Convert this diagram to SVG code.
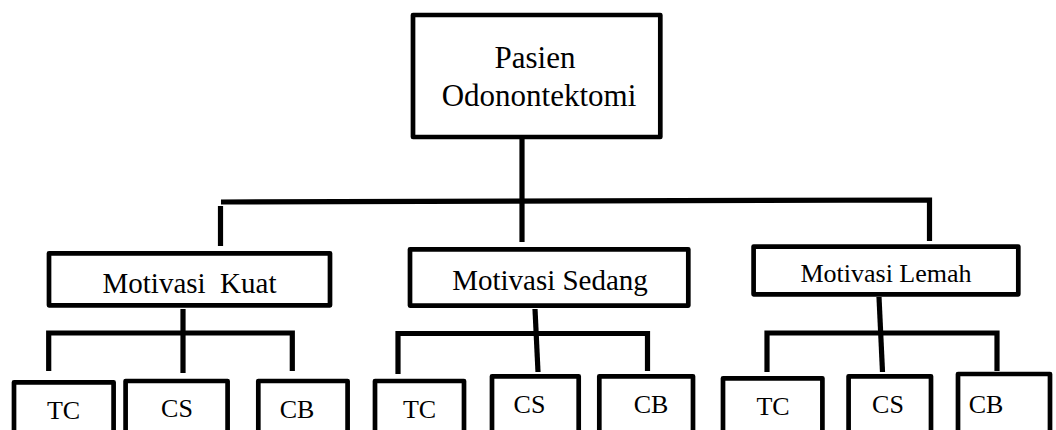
<svg xmlns="http://www.w3.org/2000/svg" width="1056" height="430" viewBox="0 0 1056 430">
<style>
.box{fill:#fff;stroke:#000;stroke-width:4.7;stroke-linejoin:round}
.ln{fill:none;stroke:#000;stroke-width:5.2;stroke-linecap:butt;stroke-linejoin:miter}
text{font-family:"Liberation Serif","Times New Roman",serif;fill:#000;text-anchor:middle;white-space:pre}
.t1{font-size:31px}
.t2{font-size:29px}
.t3{font-size:26px}
</style>
<rect width="1056" height="430" fill="#fff"/>
<g id="connectors">
<line class="ln" x1="522" y1="139" x2="522" y2="242"/>
<polyline class="ln" points="221,202 929.5,200 929.5,241"/>
<line class="ln" x1="220.5" y1="206" x2="220.5" y2="246"/>
<line class="ln" x1="183" y1="309" x2="183" y2="373"/>
<polyline class="ln" points="48.7,371 48.7,333 292.3,333 292.3,371"/>
<line class="ln" x1="535" y1="309" x2="538" y2="372"/>
<polyline class="ln" points="398,374 398,333.5 647.5,333.5 647.5,371"/>
<line class="ln" x1="879" y1="297" x2="882.5" y2="372"/>
<polyline class="ln" points="767,372 767,333 997,333 997,371"/>
</g>
<g id="root">
<rect class="box" x="413" y="15" width="247.3" height="122"/>
<text class="t1" x="535" y="68">Pasien</text>
<text class="t1" x="539" y="106">Odonontektomi</text>
</g>
<g id="kuat">
<rect class="box" x="49" y="253.3" width="281" height="52"/>
<text class="t2" x="189.5" y="293">Motivasi  Kuat</text>
</g>
<g id="sedang">
<rect class="box" x="410" y="249.3" width="278.3" height="56.3"/>
<text class="t2" x="550" y="290">Motivasi Sedang</text>
</g>
<g id="lemah">
<rect class="box" x="753.6" y="246.6" width="264.7" height="47.7"/>
<text class="t3" x="886" y="281.5">Motivasi Lemah</text>
</g>
<g id="kuat-tc"><rect class="box" x="14" y="382.3" width="99.6" height="60"/><text class="t3" x="63.5" y="419">TC</text></g>
<g id="kuat-cs"><rect class="box" x="125.6" y="381" width="102" height="60"/><text class="t3" x="177" y="417.3">CS</text></g>
<g id="kuat-cb"><rect class="box" x="258.3" y="381" width="89.3" height="60"/><text class="t3" x="297" y="418.3">CB</text></g>
<g id="sedang-tc"><rect class="box" x="375" y="381" width="89" height="60"/><text class="t3" x="419.5" y="418.3">TC</text></g>
<g id="sedang-cs"><rect class="box" x="492" y="376.3" width="86.7" height="60"/><text class="t3" x="529.5" y="412.7">CS</text></g>
<g id="sedang-cb"><rect class="box" x="599.3" y="376.3" width="93.7" height="60"/><text class="t3" x="651" y="412.7">CB</text></g>
<g id="lemah-tc"><rect class="box" x="723" y="378.3" width="99.4" height="60"/><text class="t3" x="773" y="415">TC</text></g>
<g id="lemah-cs"><rect class="box" x="848.6" y="376.3" width="82.4" height="60"/><text class="t3" x="888" y="412.7">CS</text></g>
<g id="lemah-cb"><rect class="box" x="958" y="374" width="92" height="60"/><text class="t3" x="986" y="412.7">CB</text></g>
</svg>
